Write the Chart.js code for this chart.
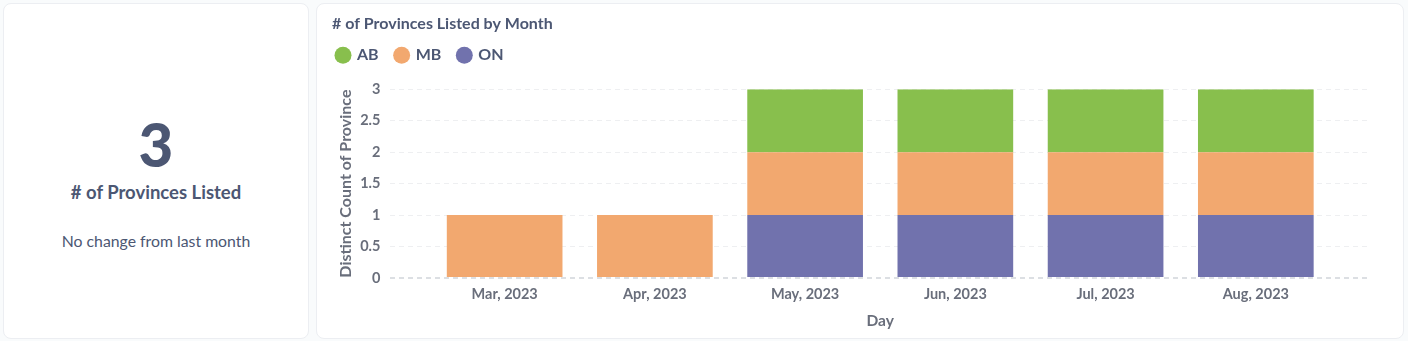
<!DOCTYPE html>
<html>
<head>
<meta charset="utf-8">
<script src="https://cdn.jsdelivr.net/npm/chart.js@4.4.0/dist/chart.umd.min.js"></script>
<style>
  html, body { margin: 0; padding: 0; background: #f9fbfc; font-family: Lato, sans-serif; }
  .card {
    position: absolute; background: #fff; border: 1px solid #eceef2; border-radius: 8px;
    box-sizing: border-box;
  }
  #scalar { left: 3px; top: 3px; width: 306px; height: 336px; text-align: center; color: #4c5773; }
  #scalar .value { position: absolute; left: 0; right: 0; top: 105px; font-size: 60px; font-weight: 900; line-height: 70px; }
  #scalar .label { position: absolute; left: 0; right: 0; top: 177px; font-size: 18.5px; font-weight: 700; }
  #scalar .delta { position: absolute; left: 0; right: 0; top: 227px; font-size: 15.8px; }
  #trend { left: 316px; top: 3px; width: 1088px; height: 336px; }
  #chartWrap { position: absolute; left: 330px; top: 8px; width: 1062px; height: 328px; }
</style>
</head>
<body>
<div class="card" id="scalar">
  <div class="value">3</div>
  <div class="label"># of Provinces Listed</div>
  <div class="delta">No change from last month</div>
</div>
<div class="card" id="trend"></div>
<div id="chartWrap"><canvas id="provinceChart"></canvas></div>
<script>
const months = ['Mar, 2023', 'Apr, 2023', 'May, 2023', 'Jun, 2023', 'Jul, 2023', 'Aug, 2023'];
const abCounts = [0, 0, 1, 1, 1, 1];
const mbCounts = [1, 1, 1, 1, 1, 1];
const onCounts = [0, 0, 1, 1, 1, 1];
const yTicks = [0, 0.5, 1, 1.5, 2, 2.5, 3];

const textDark = '#4c5773';
const textMedium = '#696e7b';

const toPoints = arr => arr.map((v, i) => ({ x: i, y: v }));

// stacked bottom-up: ON, MB, AB (legend shows them reversed)
const datasets = [
  { label: 'ON', data: toPoints(onCounts), backgroundColor: '#7172ad' },
  { label: 'MB', data: toPoints(mbCounts), backgroundColor: '#f2a86f' },
  { label: 'AB', data: toPoints(abCounts), backgroundColor: '#88bf4d' }
].map(d => ({ ...d, barPercentage: 0.77, categoryPercentage: 1, borderWidth: 0 }));

// nudge the legend flush with the title and closer to it
const legendNudge = {
  id: 'legendNudge',
  afterLayout(chart) {
    chart.legend.left -= 12;
    chart.legend.top -= 16;
  }
};

new Chart(document.getElementById('provinceChart'), {
  type: 'bar',
  data: { datasets },
  plugins: [legendNudge],
  options: {
    responsive: true,
    maintainAspectRatio: false,
    animation: false,
    layout: { padding: { left: 2, right: 22, top: 4, bottom: 2 } },
    plugins: {
      title: {
        display: true,
        text: '# of Provinces Listed by Month',
        align: 'start',
        color: textDark,
        font: { family: 'Lato', size: 16, weight: 'bold' },
        padding: { top: 2, bottom: 13 }
      },
      legend: {
        align: 'start',
        reverse: true,
        labels: {
          usePointStyle: true,
          pointStyle: 'circle',
          boxWidth: 12,
          boxHeight: 12,
          padding: 17,
          color: textDark,
          font: { family: 'Lato', size: 16, weight: 'bold' }
        }
      },
      tooltip: { enabled: false }
    },
    scales: {
      x: {
        type: 'linear',
        stacked: true,
        offset: false,
        min: -0.76,
        max: 5.76,
        afterBuildTicks: scale => { scale.ticks = months.map((m, i) => ({ value: i })); },
        ticks: {
          callback: v => months[v] || '',
          color: textMedium,
          padding: 8,
          maxRotation: 0,
          font: { family: 'Lato', size: 14.5, weight: 'bold' }
        },
        grid: { display: false, drawTicks: false },
        border: { display: false },
        title: {
          display: true,
          text: 'Day',
          color: textMedium,
          font: { family: 'Lato', size: 15.5, weight: 'bold' },
          padding: { top: 0, bottom: 4 }
        }
      },
      y: {
        stacked: true,
        min: 0,
        max: 3,
        afterBuildTicks: scale => { scale.ticks = yTicks.map(v => ({ value: v })); },
        afterFit: scale => { scale.width -= 9; },
        ticks: {
          callback: v => String(v),
          color: textMedium,
          padding: 10,
          font: { family: 'Lato', size: 14.5, weight: 'bold' }
        },
        grid: {
          drawTicks: false,
          color: ctx => ctx.tick && ctx.tick.value === 0 ? '#dcdfe3' : '#eeeff1',
          lineWidth: ctx => ctx.tick && ctx.tick.value === 0 ? 2 : 1
        },
        border: { display: false, dash: [5, 4] },
        title: {
          display: true,
          text: 'Distinct Count of Province',
          color: textMedium,
          font: { family: 'Lato', size: 16, weight: 'bold' },
          padding: { top: 4, bottom: 4 }
        }
      }
    }
  }
});
</script>
</body>
</html>
